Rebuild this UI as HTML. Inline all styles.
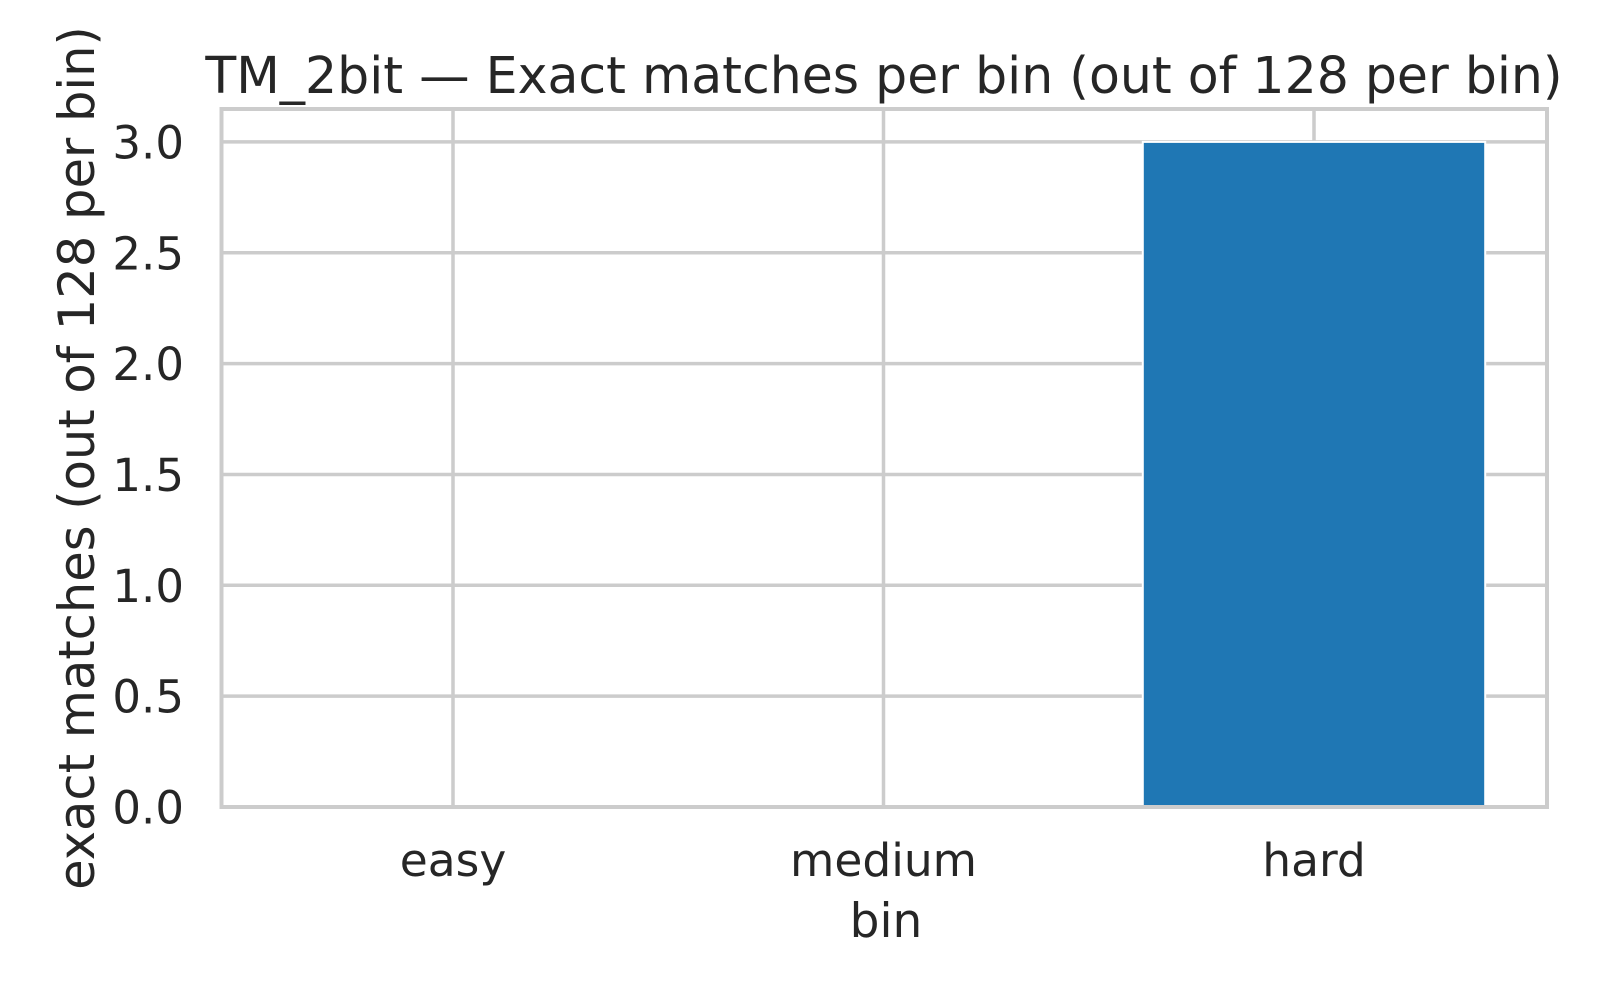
<!DOCTYPE html>
<html><head><meta charset="utf-8"><style>
body{margin:0;background:#fff;}
svg text{font-family:"DejaVu Sans","Liberation Sans",sans-serif;fill:#262626;}
</style></head><body>
<svg id="chart" width="1600" height="1000" viewBox="0 0 1600 1000" xmlns="http://www.w3.org/2000/svg">
<rect width="1600" height="1000" fill="#fff"/>
<g id="grid"></g>
<g id="bars"></g>
<rect x="221.5" y="109" width="1325.5" height="698" fill="none" stroke="#cccccc" stroke-width="4"/>
<g id="labels"></g>
<text x="884" y="93" font-size="50.5" text-anchor="middle">TM_2bit — Exact matches per bin (out of 128 per bin)</text>
<text x="886" y="937" font-size="47" text-anchor="middle">bin</text>
<text transform="translate(94,458) rotate(-90)" font-size="49.5" text-anchor="middle">exact matches (out of 128 per bin)</text>
</svg>
<script>
const categories=["easy","medium","hard"];
const values=[0,0,3];
const yTicks=[0,0.5,1.0,1.5,2.0,2.5,3.0];
const yTickLabels=["0.0","0.5","1.0","1.5","2.0","2.5","3.0"];
const NS="http://www.w3.org/2000/svg";
const X0=453,UNIT=430.5,Y0=807,YU=221.7,LEFT=221.5,RIGHT=1547,TOP=109;
const x=v=>X0+v*UNIT, y=v=>Y0-v*YU;
function mk(tag,attrs,parent){const e=document.createElementNS(NS,tag);for(const k in attrs)e.setAttribute(k,attrs[k]);parent.appendChild(e);return e;}
const grid=document.getElementById('grid'),bars=document.getElementById('bars'),labels=document.getElementById('labels');
yTicks.forEach((t,i)=>{
  const l=mk('line',{x1:LEFT,x2:RIGHT,y1:y(t),y2:y(t),stroke:'#cccccc','stroke-width':3.5},grid);
  
  
  const tx=mk('text',{x:184,y:y(t)+16.5,'font-size':45,'text-anchor':'end'},labels);
  tx.textContent=yTickLabels[i];
  
  
});
categories.forEach((c,i)=>{
  const l=mk('line',{x1:x(i),x2:x(i),y1:TOP,y2:Y0,stroke:'#cccccc','stroke-width':3.5},grid);
  
  
  const h=values[i]*YU;
  const r=mk('rect',{x:x(i)-0.4*UNIT+1,y:y(values[i]),width:0.8*UNIT-2,height:h,fill:'#1f77b4',stroke:'#fff','stroke-width':2},bars);
  
  
  const tx=mk('text',{x:x(i),y:876,'font-size':45.5,'text-anchor':'middle'},labels);
  tx.textContent=c;
  
  
});
</script>
</body></html>
